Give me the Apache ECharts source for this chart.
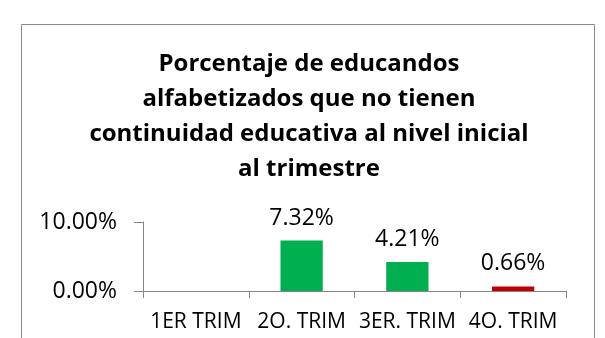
<!DOCTYPE html>
<html>
<head>
<meta charset="utf-8">
<script src="https://cdn.jsdelivr.net/npm/echarts@6/dist/echarts.min.js"></script>
<style>
  html, body { margin: 0; padding: 0; background: #fff; }
  #chart { width: 605px; height: 338px; }
</style>
</head>
<body>
<div id="chart"></div>
<script>
// Quarterly share of literate learners who do not continue to the initial level
const categories = ['1ER TRIM', '2O. TRIM', '3ER. TRIM', '4O. TRIM'];
const values = [null, 7.32, 4.21, 0.66];
const yTicks = [0, 10];

const barColors = ['#00B050', '#00B050', '#00B050', '#C00000'];
const FONT = '"Open Sans", sans-serif';

const chart = echarts.init(document.getElementById('chart'), null, { renderer: 'canvas' });

chart.setOption({
  animation: false,
  backgroundColor: '#ffffff',
  title: {
    text: 'Porcentaje de educandos\nalfabetizados que no tienen\ncontinuidad educativa al nivel inicial\nal trimestre',
    left: 304,
    top: 42,
    textAlign: 'center',
    textStyle: {
      fontFamily: FONT,
      fontWeight: 'bold',
      fontSize: 24,
      lineHeight: 35,
      color: '#000'
    }
  },
  graphic: [{
    type: 'rect',
    shape: { x: 21.5, y: 24.5, width: 573, height: 330 },
    style: { fill: 'none', stroke: '#898989', lineWidth: 1 },
    silent: true
  }],
  grid: { left: 143, right: 39, top: 222, bottom: 47, containLabel: false },
  xAxis: {
    type: 'category',
    data: categories,
    axisLine: { lineStyle: { color: '#868686', width: 1 } },
    axisTick: { show: true, length: 7, alignWithLabel: false, lineStyle: { color: '#868686' } },
    axisLabel: { fontFamily: FONT, fontSize: 21, color: '#000', margin: 21, interval: 0 }
  },
  yAxis: {
    type: 'value',
    min: yTicks[0],
    max: yTicks[yTicks.length - 1],
    interval: yTicks[1] - yTicks[0],
    axisLine: { show: true, lineStyle: { color: '#868686', width: 1 } },
    axisTick: { show: true, length: 9, lineStyle: { color: '#868686' } },
    splitLine: { show: false },
    axisLabel: {
      fontFamily: FONT, fontSize: 23, color: '#000', margin: 26,
      formatter: v => v.toFixed(2) + '%'
    }
  },
  series: [{
    type: 'bar',
    data: values.map((v, i) => ({ value: v, itemStyle: { color: barColors[i] } })),
    barCategoryGap: '60%',
    label: {
      show: true,
      position: 'top',
      distance: 11,
      fontFamily: FONT,
      fontSize: 23,
      color: '#000',
      formatter: p => (p.value == null ? '' : p.value.toFixed(2) + '%')
    }
  }]
});
</script>
</body>
</html>
